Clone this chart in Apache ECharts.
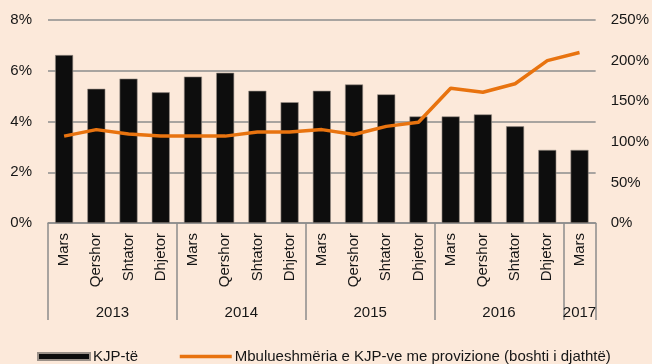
<!DOCTYPE html>
<html>
<head>
<meta charset="utf-8">
<script src="https://cdn.jsdelivr.net/npm/echarts@6/dist/echarts.min.js"></script>
<style>
  html, body { margin: 0; padding: 0; background: #fce9da; }
  #chart { width: 652px; height: 364px; }
</style>
</head>
<body>
<div id="chart"></div>
<script>
// Quarter labels along the category axis
const months = ['Mars', 'Qershor', 'Shtator', 'Dhjetor',
                'Mars', 'Qershor', 'Shtator', 'Dhjetor',
                'Mars', 'Qershor', 'Shtator', 'Dhjetor',
                'Mars', 'Qershor', 'Shtator', 'Dhjetor',
                'Mars'];
// Year groups and how many quarters each spans
const years = ['2013', '2014', '2015', '2016', '2017'];
const yearSpans = [4, 4, 4, 4, 1];

// KJP-të (left axis, %)
const kjp = [6.62, 5.29, 5.69, 5.15, 5.77, 5.92, 5.21, 4.76, 5.21, 5.46, 5.07, 4.20,
             4.20, 4.28, 3.81, 2.88, 2.88];
// Mbulueshmëria me provizione (right axis, %)
const coverage = [107, 115, 109.5, 107, 107, 107, 112, 112, 115, 109, 119, 124,
                  166, 161, 171.5, 200, 210];

const leftTicks = { min: 0, max: 8, interval: 2 };
const rightTicks = { min: 0, max: 250, interval: 50 };

// Group boundaries and centres on a 0..N scale across the category band
const bounds = [0];
yearSpans.forEach(s => bounds.push(bounds[bounds.length - 1] + s));
const centres = yearSpans.map((s, i) => bounds[i] + s / 2);

const FONT = 'Liberation Sans, Arial, sans-serif';
const TEXT = '#161616';
const GRID = '#8c8c8c';
const ORANGE = '#e8730f';
const BAR_NAME = 'KJP-të';
const LINE_NAME = 'Mbulueshmëria e KJP-ve me provizione (boshti i djathtë)';

const chart = echarts.init(document.getElementById('chart'), null, { renderer: 'canvas' });
chart.setOption({
  backgroundColor: '#fce9da',
  animation: false,
  textStyle: { fontFamily: FONT, color: TEXT, fontSize: 15 },
  grid: { left: 48, right: 56, top: 20, bottom: 141 },
  legend: {
    left: 37, bottom: 0, padding: 0,
    itemWidth: 52, itemHeight: 7, itemGap: 40,
    textStyle: { fontFamily: FONT, fontSize: 15, color: TEXT, padding: [0, 0, 0, -2] },
    data: [
      { name: BAR_NAME, icon: 'rect' },
      { name: LINE_NAME, itemStyle: { opacity: 0 }, lineStyle: { width: 3.5, color: ORANGE } }
    ]
  },
  xAxis: [
    {
      type: 'category',
      data: months,
      axisLine: { show: true, lineStyle: { color: GRID, width: 1.5 } },
      axisTick: { show: false },
      axisLabel: {
        interval: 0, rotate: 90, margin: 10,
        fontFamily: FONT, fontSize: 15, color: TEXT
      }
    },
    {
      type: 'value',
      min: 0, max: bounds[bounds.length - 1],
      position: 'bottom',
      axisLine: { show: false },
      splitLine: { show: false },
      axisTick: {
        show: true, customValues: bounds, length: 97,
        lineStyle: { color: GRID, width: 1.5 }
      },
      axisLabel: {
        customValues: centres, margin: 82,
        fontFamily: FONT, fontSize: 15, color: TEXT,
        formatter: v => years[centres.indexOf(v)] || ''
      }
    }
  ],
  yAxis: [
    {
      type: 'value',
      min: leftTicks.min, max: leftTicks.max, interval: leftTicks.interval,
      axisLine: { show: false },
      axisTick: { show: false },
      splitLine: { show: true, lineStyle: { color: GRID, width: 1.5 } },
      axisLabel: { margin: 16, fontFamily: FONT, fontSize: 15, color: TEXT, formatter: '{value}%' }
    },
    {
      type: 'value',
      min: rightTicks.min, max: rightTicks.max, interval: rightTicks.interval,
      axisLine: { show: false },
      axisTick: { show: false },
      splitLine: { show: false },
      axisLabel: { margin: 15, fontFamily: FONT, fontSize: 15, color: TEXT, formatter: '{value}%' }
    }
  ],
  series: [
    {
      name: BAR_NAME,
      type: 'bar',
      data: kjp,
      xAxisIndex: 0, yAxisIndex: 0,
      barWidth: 18,
      itemStyle: { color: '#0d0d0d', borderColor: '#9a9088', borderWidth: 0.6 }
    },
    {
      name: LINE_NAME,
      type: 'line',
      data: coverage,
      xAxisIndex: 0, yAxisIndex: 1,
      symbol: 'none',
      lineStyle: { color: ORANGE, width: 3.5 },
      itemStyle: { color: ORANGE }
    }
  ]
});
</script>
</body>
</html>
